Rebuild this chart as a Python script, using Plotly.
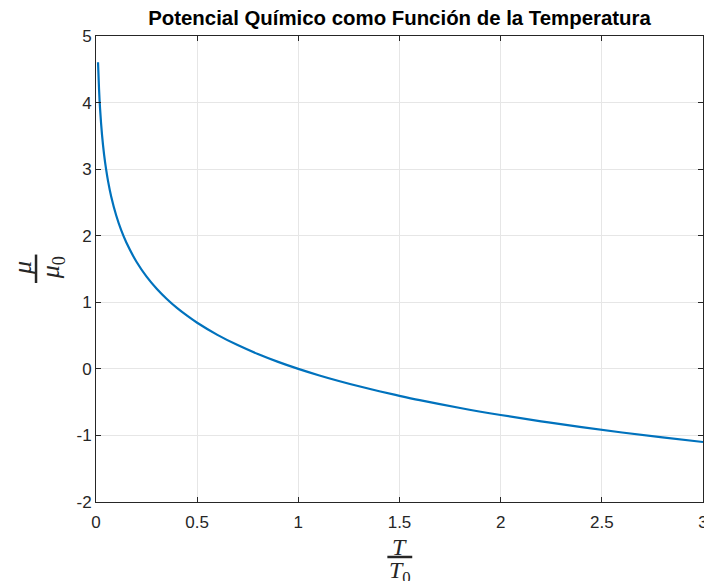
import plotly.graph_objects as go

# Values
T_ratio = [0.01, 0.015, 0.02, 0.03, 0.04, 0.05, 0.06, 0.075, 0.1, 0.125, 0.15, 0.2, 0.25, 0.3,
           0.35, 0.4, 0.45, 0.5, 0.6, 0.7, 0.8, 0.9, 1.0, 1.1, 1.2, 1.3, 1.4, 1.5, 1.6, 1.8,
           2.0, 2.2, 2.4, 2.6, 2.8, 3.0]
mu_ratio = [4.605, 4.200, 3.912, 3.507, 3.219, 2.996, 2.813, 2.590, 2.303, 2.079, 1.897, 1.609,
            1.386, 1.204, 1.050, 0.916, 0.799, 0.693, 0.511, 0.357, 0.223, 0.105, 0.000, -0.095,
            -0.182, -0.262, -0.336, -0.405, -0.470, -0.588, -0.693, -0.788, -0.875, -0.956,
            -1.030, -1.099]
x_ticks = [0, 0.5, 1, 1.5, 2, 2.5, 3]
x_tick_labels = ["0", "0.5", "1", "1.5", "2", "2.5", "3"]
y_ticks = [-2, -1, 0, 1, 2, 3, 4, 5]
y_tick_labels = ["-2", "-1", "0", "1", "2", "3", "4", "5"]
title_text = "Potencial Químico como Función de la Temperatura"

fig = go.Figure()
fig.add_trace(go.Scatter(x=T_ratio, y=mu_ratio, mode="lines",
                         line=dict(color="#0072BD", width=2.2, shape="spline", smoothing=1.0),
                         showlegend=False, hoverinfo="x+y"))

axis_common = dict(showline=True, linecolor="#262626", linewidth=1, mirror="ticks",
                   ticks="inside", ticklen=5, tickcolor="#262626",
                   showgrid=True, gridcolor="#e6e6e6", gridwidth=1, automargin=False,
                   zeroline=False, tickfont=dict(family="Liberation Sans, Arial", size=17, color="#262626"))

fig.update_xaxes(range=[0, 3], tickvals=x_ticks, ticktext=x_tick_labels, ticklabelstandoff=5,
                 **axis_common)
fig.update_yaxes(range=[-2, 5], tickvals=y_ticks, ticktext=y_tick_labels, **axis_common)

serif = "Liberation Serif, DejaVu Serif, serif"
annotations = [
    dict(text="<i>T</i>", x=0.5, y=-0.097, xref="paper", yref="paper", showarrow=False,
         xanchor="center", yanchor="middle", font=dict(family=serif, size=24, color="#262626")),
    dict(text="<i>T</i><sub>0</sub>", x=0.5, y=-0.15, xref="paper", yref="paper", showarrow=False,
         xanchor="center", yanchor="middle", font=dict(family=serif, size=24, color="#262626")),
    dict(text="<i>μ</i>", x=-0.122, y=0.502, xref="paper", yref="paper", showarrow=False,
         textangle=-90, xanchor="center", yanchor="middle",
         font=dict(family=serif, size=26, color="#262626")),
    dict(text="<i>μ</i><sub>0</sub>", x=-0.072, y=0.502, xref="paper", yref="paper", showarrow=False,
         textangle=-90, xanchor="center", yanchor="middle",
         font=dict(family=serif, size=26, color="#262626")),
]
shapes = [
    dict(type="line", xref="paper", yref="paper", x0=0.480, x1=0.521, y0=-0.118, y1=-0.118,
         line=dict(color="#262626", width=2.5)),
    dict(type="line", xref="paper", yref="paper", x0=-0.0988, x1=-0.0988, y0=0.470, y1=0.531,
         line=dict(color="#262626", width=2.5)),
]

# the page body adds an 8px offset, so the figure is sized/margined to compensate
fig.update_layout(
    width=704, height=573,
    margin=dict(l=88, r=9, t=28, b=79, autoexpand=False),
    paper_bgcolor="white", plot_bgcolor="white",
    title=dict(text="<b>" + title_text + "</b>", x=0.5, xref="paper", y=0.983, yanchor="middle",
               font=dict(family="Liberation Sans, Arial", size=20.4, color="#000000")),
    annotations=annotations, shapes=shapes,
)

fig.write_html("out.html")
